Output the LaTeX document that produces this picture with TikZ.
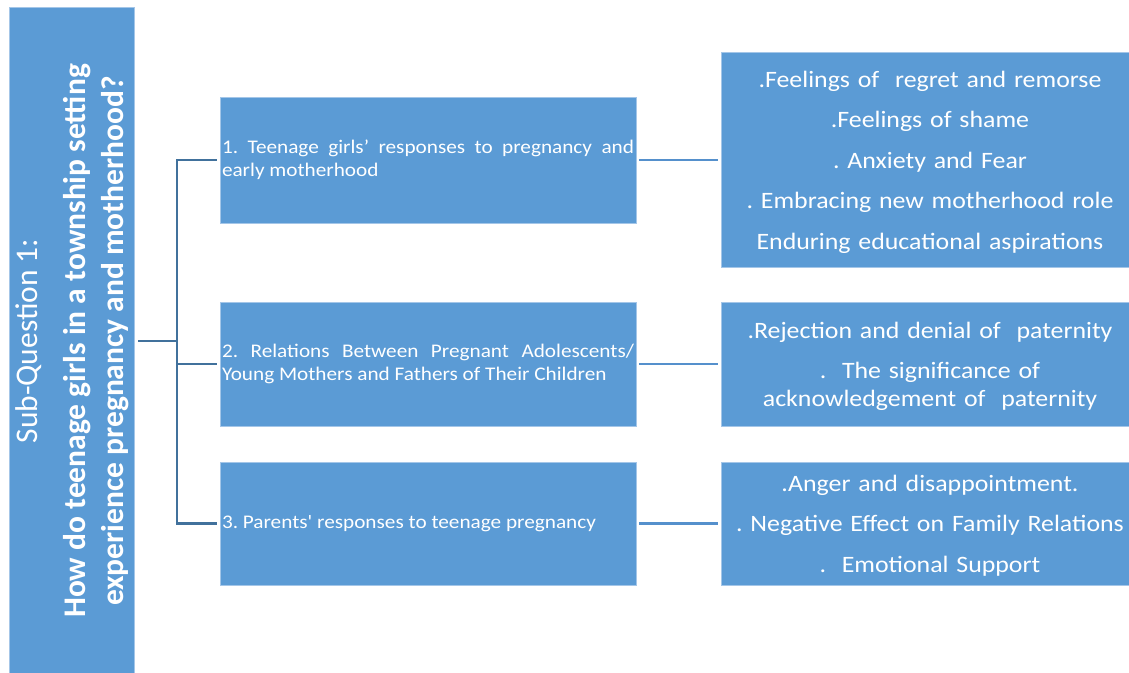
\documentclass[tikz,border=0pt]{standalone}
\usepackage{fontspec}
\usetikzlibrary{calc}
\newfontfamily\cf[FakeStretch=1.1]{Carlito}
\newfontfamily\cfl{Carlito}
\definecolor{boxblue}{HTML}{5B9BD5}
\definecolor{linkdark}{HTML}{41719C}
\definecolor{linklight}{HTML}{5590CC}
\definecolor{boxedge}{HTML}{A4C6E8}
\begin{document}
\frenchspacing
\begin{tikzpicture}[x=1pt,y=-1pt,
  blk/.style={fill=boxblue,draw=boxedge,line width=0.8pt},
  tree/.style={draw=linkdark,line width=2.4pt},
  link/.style={draw=linklight,line width=2.4pt},
  midbox/.style={blk,text=white,font=\cf\fontsize{19.3}{23}\selectfont\frenchspacing,
    text width=412pt,align=justify,inner xsep=2pt,inner ysep=0pt,minimum height=126pt},
  rightbox/.style={blk,minimum width=418pt,inner sep=0pt},
  righttext/.style={text=white,font=\cf\fontsize{23.5}{40.5}\selectfont\frenchspacing,
    text width=410pt,align=center,inner sep=0pt},
]
\useasboundingbox (0,0) rectangle (1129,672);
\clip (0,0) rectangle (1129,672);
% left question box
\node[blk,minimum width=125pt,minimum height=680pt,inner sep=0pt] (q) at (71.5,347) {};
\node[rotate=90,text=white,align=center,inner sep=0pt,
  font=\cfl\fontsize{31.5}{37.5}\selectfont] (qt) at (72,341)
  {Sub-Question 1:\\[11pt]\bfseries How do teenage girls in a township setting\\ \bfseries experience pregnancy and motherhood?};
% middle boxes
\node[midbox,minimum height=126pt] (m1) at (428,160)
  {1. Teenage girls’ responses to pregnancy and\linebreak early motherhood};
\node[midbox,minimum height=124pt] (m2) at (428,364)
  {2. Relations Between Pregnant Adolescents/\linebreak Young Mothers and Fathers of Their Children};
\node[midbox,minimum height=123pt] (m3) at (428,523.5)
  {3. Parents' responses to teenage pregnancy};
% right boxes
\node[rightbox,minimum height=215pt] (r1) at (930,159.5) {};
\node[rightbox,minimum height=124pt] (r2) at (930,364) {};
\node[rightbox,minimum height=123pt] (r3) at (930,523.5) {};
\node[righttext] (r1t) at ($(r1.center)+(0,2.5)$)
  {.Feelings of\ \ regret and remorse\\ .Feelings of shame\\ . Anxiety and Fear\\ . Embracing new motherhood role\\ Enduring educational aspirations};
\node[righttext,font=\cf\fontsize{23.5}{28}\selectfont\frenchspacing] (r2t) at ($(r2.center)+(0,2.5)$)
  {.Rejection and denial of\ \ paternity\\[12.5pt] .\ \ The significance of\\ acknowledgement of\ \ paternity};
\node[righttext] (r3t) at ($(r3.center)+(0,2)$)
  {.Anger and disappointment.\\ . Negative Effect on Family Relations\\ .\ \ Emotional Support};
% tree connectors
\coordinate (j) at (177,341);
\draw[tree,shorten <=4pt] (q.east |- j) -- (j);
\draw[tree,shorten <=3pt,shorten >=3pt] (m1.west) -- (j |- m1.west) -- (j |- m3.west) -- (m3.west);
\draw[tree,shorten >=3pt] (j |- m2.west) -- (m2.west);
% right connectors
\draw[link,shorten <=3pt,shorten >=3pt] (m1.east) -- (r1.west |- m1.east);
\draw[link,shorten <=3pt,shorten >=3pt] (m2.east) -- (r2.west |- m2.east);
\draw[link,shorten <=3pt,shorten >=3pt] (m3.east) -- (r3.west |- m3.east);
\end{tikzpicture}
\end{document}
